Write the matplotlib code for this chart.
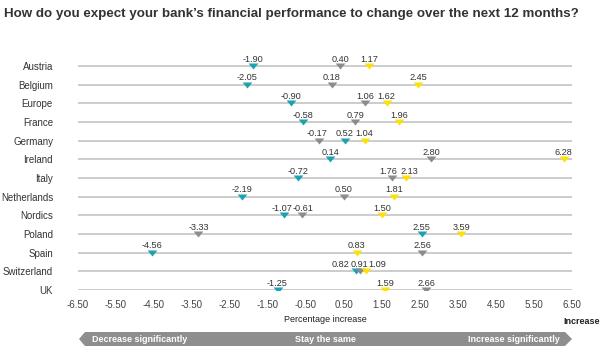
import matplotlib
matplotlib.use("Agg")
import matplotlib.pyplot as plt
from matplotlib.patches import Polygon

plt.rcParams['font.family'] = ['Liberation Sans', 'DejaVu Sans']

countries = ["Austria", "Belgium", "Europe", "France", "Germany", "Ireland", "Italy",
             "Netherlands", "Nordics", "Poland", "Spain", "Switzerland", "UK"]
teal_vals = [-1.90, -2.05, -0.90, -0.58, 0.52, 0.14, -0.72, -2.19, -1.07, 2.55, -4.56, 0.82, -1.25]
grey_vals = [0.40, 0.18, 1.06, 0.79, -0.17, 2.80, 1.76, 0.50, -0.61, -3.33, 2.56, 0.91, 2.66]
yellow_vals = [1.17, 2.45, 1.62, 1.96, 1.04, 6.28, 2.13, 1.81, 1.50, 3.59, 0.83, 1.09, 1.59]
tick_vals = [-6.5, -5.5, -4.5, -3.5, -2.5, -1.5, -0.5, 0.5, 1.5, 2.5, 3.5, 4.5, 5.5, 6.5]

# label nudges (points) to keep crowded labels apart: (series index, row index) -> dx
label_nudge = {(0, 11): -11.5, (2, 11): 7.5, (1, 6): -2.5, (2, 6): 2.5,
               (0, 8): -1.5, (1, 8): 1.0, (1, 4): -1.0}

W, H = 601, 352
fig = plt.figure(figsize=(W / 100, H / 100), dpi=100)

def fx(px):
    return px / W

def fy(py):
    return 1 - py / H

row_step = (290 - 66) / 12.0
top_px = 66 - row_step
ax = fig.add_axes([fx(78), fy(290), fx(572) - fx(78), (290 - top_px) / H])
ax.set_xlim(-6.5, 6.5)
ax.set_ylim(12, -1)
for s in ax.spines.values():
    s.set_visible(False)

n = len(countries)
for i in range(n):
    ax.plot([-6.5, 6.5], [i, i], color="#c8c8c8", lw=1.3, zorder=1, solid_capstyle='butt')

tri = [(-1, 0.62), (1, 0.62), (0, -0.62)]
series = [(teal_vals, "#1ca3b2"), (grey_vals, "#8c8c8c"), (yellow_vals, "#ffe100")]
for si, (vals, col) in enumerate(series):
    ys = list(range(n))
    ax.plot(vals, ys, linestyle="none", marker=tri, markersize=7, color=col,
            markeredgewidth=0, zorder=3)
    for x, y in zip(vals, ys):
        dx = label_nudge.get((si, y), 0)
        ax.annotate(f"{x:.2f}", (x, y), xytext=(dx, 3.2), textcoords="offset points",
                    ha="center", va="baseline", fontsize=6.6, color="#333333", zorder=4)

ax.set_yticks(range(n))
ax.set_yticklabels(countries, fontsize=7, color="#333333")
ax.tick_params(axis="y", length=0, pad=18)
ax.set_xticks(tick_vals)
ax.set_xticklabels([f"{t:.2f}" for t in tick_vals], fontsize=7, color="#444444")
ax.tick_params(axis="x", length=0, pad=7)

fig.text(fx(4), fy(14), "How do you expect your bank\u2019s financial performance to change over the next 12 months?",
         fontsize=9.6, fontweight="bold", color="#333333", ha="left", va="center")
fig.text(fx(325), fy(320), "Percentage increase", fontsize=6.5, color="#222222", ha="center", va="center")
fig.text(fx(600), fy(321), "Increase", fontsize=6.5, fontweight="bold", color="#222222", ha="right", va="center")

band = Polygon([(fx(79), fy(339)), (fx(85), fy(332)), (fx(565), fy(332)), (fx(572), fy(339)),
                (fx(565), fy(346)), (fx(85), fy(346))], closed=True,
               transform=fig.transFigure, facecolor="#8e8e8e", edgecolor="none")
fig.patches.append(band)
fig.text(fx(92), fy(339), "Decrease significantly", fontsize=6.5, fontweight="bold", color="white",
         ha="left", va="center")
fig.text(fx(325), fy(339), "Stay the same", fontsize=6.5, fontweight="bold", color="white",
         ha="center", va="center")
fig.text(fx(560), fy(339), "Increase significantly", fontsize=6.5, fontweight="bold", color="white",
         ha="right", va="center")

fig.savefig("out.png", dpi=100, facecolor="white")
